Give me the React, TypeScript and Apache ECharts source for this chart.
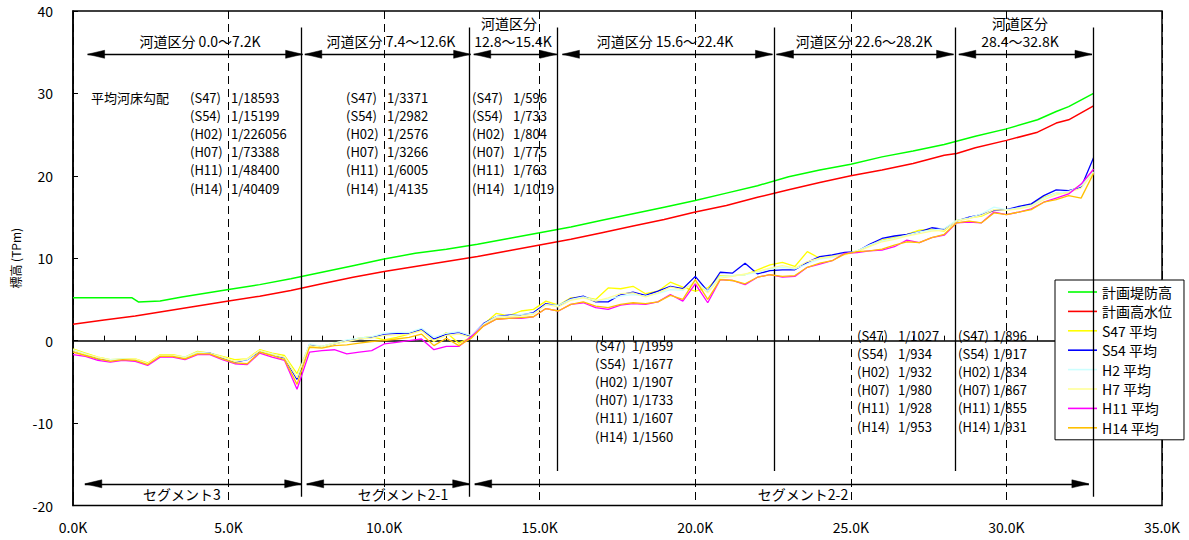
import React, { useEffect, useRef } from "react";
import * as echarts from "echarts";

// distance (K) for bed profiles
const KM = [
  0, 0.4, 0.8, 1.2, 1.6, 2, 2.4, 2.8, 3.2, 3.6,
  4, 4.4, 4.8, 5.2, 5.6, 6, 6.4, 6.8, 7.2, 7.6,
  8, 8.4, 8.8, 9.2, 9.6, 10, 10.4, 10.8, 11.2, 11.6,
  12, 12.4, 12.8, 13.2, 13.6, 14, 14.4, 14.8, 15.2, 15.6,
  16, 16.4, 16.8, 17.2, 17.6, 18, 18.4, 18.8, 19.2, 19.6,
  20, 20.4, 20.8, 21.2, 21.6, 22, 22.4, 22.8, 23.2, 23.6,
  24, 24.4, 24.8, 25.2, 25.6, 26, 26.4, 26.8, 27.2, 27.6,
  28, 28.4, 28.8, 29.2, 29.6, 30, 30.4, 30.8, 31.2, 31.6,
  32, 32.4, 32.8,
];

const S47 = [
  -1.0, -1.5, -2.0, -2.3, -2.2, -2.2, -2.7, -1.7, -1.7, -2.0,
  -1.3, -1.5, -1.9, -2.3, -2.2, -1.1, -1.5, -1.8, -4.0, -0.6,
  -0.7, -0.3, 0.0, 0.3, 0.5, 0.1, 0.4, 0.8, 1.3, -0.1,
  1.0, -0.3, 0.4, 2.0, 3.3, 3.0, 3.6, 3.8, 4.8, 4.3,
  5.2, 5.3, 5.0, 6.4, 6.3, 6.6, 5.7, 6.0, 7.1, 6.5,
  6.0, 6.4, 7.9, 7.9, 8.0, 8.6, 9.2, 9.5, 9.0, 10.8,
  10.0, 10.2, 10.5, 10.9, 11.5, 12.2, 12.5, 12.9, 13.4, 13.5,
  13.3, 14.6, 14.9, 15.1, 15.8, 15.9, 16.1, 16.5, 17.4, 17.9,
  18.0, 18.9, 20.6,
];
const S54 = [
  -1.2, -1.7, -2.2, -2.4, -2.3, -2.3, -2.9, -1.9, -1.9, -2.1,
  -1.5, -1.5, -2.1, -2.6, -2.3, -1.3, -1.7, -2.1, -4.7, -0.5,
  -0.8, -0.4, 0.0, 0.2, 0.4, 0.8, 0.9, 0.9, 1.4, 0.2,
  0.8, 1.0, 0.5, 2.1, 2.9, 3.1, 3.1, 3.4, 4.5, 4.2,
  5.1, 5.4, 4.7, 4.7, 5.6, 5.9, 5.5, 6.0, 6.6, 6.3,
  7.8, 6.0, 8.3, 8.2, 9.4, 8.1, 8.5, 8.6, 8.6, 9.5,
  10.2, 10.4, 10.7, 10.8, 11.7, 12.4, 12.7, 12.9, 13.2, 13.7,
  13.5, 14.5, 15.0, 15.3, 15.8, 15.9, 16.3, 16.6, 17.6, 18.3,
  18.2, 18.6, 22.2,
];
const H2 = [
  -1.1, -1.6, -2.1, -2.3, -2.2, -2.3, -2.8, -1.8, -1.8, -2.0,
  -1.4, -1.5, -2.0, -2.5, -2.3, -1.2, -1.6, -2.0, -4.4, -0.4,
  -0.7, -0.3, 0.1, 0.3, 0.5, 0.9, 1.0, 1.0, 1.5, 0.4,
  0.9, 1.1, 0.6, 2.0, 2.9, 3.0, 3.2, 3.3, 4.3, 4.3,
  5.0, 5.3, 4.9, 5.0, 5.4, 5.6, 5.4, 5.7, 6.2, 6.1,
  7.2, 6.0, 7.8, 7.9, 8.0, 8.3, 8.7, 8.9, 8.7, 9.3,
  9.9, 10.1, 10.5, 10.9, 11.6, 12.1, 12.4, 12.8, 13.2, 13.4,
  13.6, 14.6, 14.9, 15.4, 16.2, 15.9, 16.1, 16.4, 17.3, 17.9,
  18.1, 18.8, 20.5,
];
const H7 = [
  -1.2, -1.7, -2.0, -2.4, -2.3, -2.2, -2.8, -1.8, -1.8, -2.1,
  -1.5, -1.6, -2.0, -2.5, -2.2, -1.2, -1.7, -2.0, -4.5, -0.6,
  -0.8, -0.4, -0.1, 0.2, 0.3, 0.6, 0.7, 0.8, 1.2, 0.0,
  0.6, 0.8, 0.4, 1.9, 2.8, 2.9, 3.0, 3.2, 4.4, 4.1,
  4.9, 5.2, 4.8, 5.2, 5.7, 5.8, 5.3, 5.8, 6.5, 6.2,
  7.0, 5.8, 7.6, 7.8, 8.1, 8.4, 8.8, 9.1, 8.8, 9.6,
  10.0, 10.2, 10.4, 10.8, 11.4, 12.0, 12.3, 12.7, 13.0, 13.3,
  13.4, 14.5, 14.8, 15.2, 15.9, 15.8, 16.0, 16.3, 17.1, 17.7,
  18.0, 18.5, 20.4,
];
const H11 = [
  -1.7, -1.9, -2.4, -2.6, -2.4, -2.5, -3.0, -2.0, -2.0, -2.3,
  -1.7, -1.7, -2.3, -2.8, -2.9, -1.5, -2.0, -2.4, -5.9, -1.4,
  -1.2, -1.1, -1.6, -1.4, -1.2, -0.4, -0.2, 0.0, 0.2, -1.1,
  -0.7, -0.7, 0.5, 1.8, 2.6, 2.7, 2.7, 2.9, 3.9, 3.6,
  4.4, 4.6, 4.0, 3.8, 4.3, 4.5, 4.4, 4.7, 5.6, 4.8,
  6.9, 4.6, 7.4, 7.3, 6.8, 7.7, 8.0, 7.7, 7.8, 8.9,
  9.3, 9.7, 10.6, 10.7, 10.9, 11.0, 11.4, 12.2, 11.9, 12.5,
  12.8, 14.3, 14.4, 14.3, 15.6, 15.3, 15.6, 16.0, 16.8, 17.3,
  17.8, 19.0, 20.8,
];
const H14 = [
  -1.4, -1.8, -2.2, -2.5, -2.3, -2.4, -2.9, -1.9, -1.9, -2.2,
  -1.6, -1.6, -2.2, -2.7, -2.8, -1.4, -1.8, -2.3, -5.3, -0.8,
  -0.9, -0.6, -0.5, -0.3, -0.1, 0.0, 0.2, 0.4, 0.8, -0.6,
  0.3, -0.6, 0.3, 1.8, 2.6, 2.7, 2.8, 2.9, 3.9, 3.6,
  4.4, 4.7, 4.2, 4.0, 4.4, 4.6, 4.5, 4.7, 5.5, 5.0,
  7.4, 5.0, 7.4, 7.3, 6.9, 7.7, 8.0, 7.8, 7.9, 8.9,
  9.4, 9.7, 10.5, 10.8, 10.9, 11.1, 11.6, 12.0, 11.9, 12.5,
  12.9, 14.3, 14.5, 14.3, 15.5, 15.3, 15.6, 15.9, 16.8, 17.1,
  17.6, 17.3, 20.3,
];

// planned levee height (計画堤防高)
const DIKE_KM = [0, 1.9, 2.1, 2.8, 3.5, 5, 6, 7, 8, 9, 10, 11, 12, 13, 14, 15, 16, 17, 18, 19, 20, 21, 22, 23, 24, 25, 26, 27, 28, 29, 30, 31, 31.6, 32, 32.8];
const DIKE = [5.2, 5.2, 4.7, 4.8, 5.3, 6.2, 6.8, 7.5, 8.3, 9.1, 9.9, 10.6, 11.1, 11.7, 12.4, 13.1, 13.8, 14.6, 15.4, 16.2, 17.0, 17.9, 18.8, 19.9, 20.7, 21.4, 22.3, 23.0, 23.8, 24.8, 25.7, 26.8, 27.8, 28.4, 30.0];
// planned high water level (計画高水位)
const HWL_KM = [0, 1, 2, 3, 4, 5, 6, 7, 8, 9, 10, 11, 12, 13, 14, 15, 16, 17, 18, 19, 20, 21, 22, 23, 24, 25, 26, 27, 28, 28.4, 29, 30, 31, 31.6, 32, 32.8];
const HWL = [2.0, 2.5, 3.0, 3.6, 4.2, 4.8, 5.4, 6.1, 6.9, 7.7, 8.4, 9.0, 9.6, 10.2, 10.9, 11.6, 12.3, 13.1, 13.9, 14.7, 15.6, 16.4, 17.4, 18.3, 19.2, 20.0, 20.7, 21.5, 22.5, 22.7, 23.4, 24.3, 25.3, 26.4, 26.8, 28.5];

const SERIES_NAMES = ["計画堤防高", "計画高水位", "S47 平均", "S54 平均", "H2 平均", "H7 平均", "H11 平均", "H14 平均"];
const SERIES_COLORS = ["#00ff00", "#ff0000", "#ffff00", "#0000ff", "#ccffff", "#ffff99", "#ff00ff", "#ffc000"];

// section boundaries (K) and annotation arrow tips (K)
const BOUNDARIES = [7.35, 12.75, 15.55, 22.55, 28.35, 32.8];
const LONG_BOUNDARIES = [7.35, 12.75, 32.8];
const TOP_ARROWS = [[0.47, 7.38], [7.45, 12.78], [12.88, 15.55], [15.73, 22.48], [22.61, 28.3], [28.47, 32.75]];
const BOTTOM_ARROWS = [[0.38, 7.35], [7.51, 12.75], [12.91, 32.65]];
const TOP_ARROW_Y = 34.75;
const BOTTOM_ARROW_Y = -17.37;

const CODES = ["(S47)", "(S54)", "(H02)", "(H07)", "(H11)", "(H14)"];
const GRAD_1 = ["1/18593", "1/15199", "1/226056", "1/73388", "1/48400", "1/40409"];
const GRAD_2 = ["1/3371", "1/2982", "1/2576", "1/3266", "1/6005", "1/4135"];
const GRAD_3 = ["1/596", "1/733", "1/804", "1/775", "1/763", "1/1019"];
const GRAD_4 = ["1/1959", "1/1677", "1/1907", "1/1733", "1/1607", "1/1560"];
const GRAD_5 = ["1/1027", "1/934", "1/932", "1/980", "1/928", "1/953"];
const GRAD_6 = ["1/896", "1/917", "1/834", "1/867", "1/855", "1/931"];

const FONT = '"Noto Sans CJK JP", "Noto Sans", sans-serif';
const HEAD_LEN = 17;
const HEAD_HALF = 4;

export default function App() {
  const ref = useRef<HTMLDivElement>(null);
  useEffect(() => {
    document.body.style.margin = "0";
    const chart = echarts.init(ref.current!, null, { renderer: "svg" });

    const beds = [S47, S54, H2, H7, H11, H14];
    const bedSeries = beds.map((arr, i) => ({
      name: SERIES_NAMES[i + 2],
      type: "line",
      data: KM.map((k, j) => [k, arr[j]]),
      showSymbol: false,
      symbol: "none",
      lineStyle: { color: SERIES_COLORS[i + 2], width: 1.3 },
      itemStyle: { color: SERIES_COLORS[i + 2] },
      z: 3 + i,
    }));

    const lineItems: any[] = BOUNDARIES.map((k) => {
      const bottom = LONG_BOUNDARIES.indexOf(k) >= 0 ? -18.95 : -15.8;
      return [{ coord: [k, 38.0] }, { coord: [k, bottom] }];
    });
    TOP_ARROWS.forEach(([a, b]) => lineItems.push([{ coord: [a, TOP_ARROW_Y] }, { coord: [b, TOP_ARROW_Y] }]));
    BOTTOM_ARROWS.forEach(([a, b]) => lineItems.push([{ coord: [a, BOTTOM_ARROW_Y] }, { coord: [b, BOTTOM_ARROW_Y] }]));

    const texts: any[] = [];
    const addText = (text: string, x: number, y: number, align = "left", size = 13) => {
      texts.push({
        type: "text",
        x,
        y,
        silent: true,
        style: { text, fill: "#000", font: `${size}px ${FONT}`, textAlign: align, textVerticalAlign: "middle" },
      });
    };
    addText("河道区分 0.0～7.2K", 200, 41, "center", 14);
    addText("河道区分 7.4～12.6K", 391, 41, "center", 14);
    addText("河道区分", 509, 23, "center", 14);
    addText("12.8～15.4K", 513, 41, "center", 14);
    addText("河道区分 15.6～22.4K", 665, 41, "center", 14);
    addText("河道区分 22.6～28.2K", 864, 41, "center", 14);
    addText("河道区分", 1020, 23, "center", 14);
    addText("28.4～32.8K", 1020, 41, "center", 14);
    addText("平均河床勾配", 91, 97, "left", 13);
    const blocks: [string[], number, number, number][] = [
      [GRAD_1, 190, 231, 97],
      [GRAD_2, 346, 387, 97],
      [GRAD_3, 472, 513, 97],
      [GRAD_4, 595, 632, 345],
      [GRAD_5, 857, 898, 335],
      [GRAD_6, 958, 993, 335],
    ];
    blocks.forEach(([vals, cx, vx, y0]) => {
      vals.forEach((v, i) => {
        addText(CODES[i], cx, y0 + i * 18.2, "left", 13);
        addText(v, vx, y0 + i * 18.2, "left", 13);
      });
    });
    addText("セグメント3", 182, 494, "center", 14);
    addText("セグメント2-1", 403, 494, "center", 14);
    addText("セグメント2-2", 803, 494, "center", 14);

    const option: any = {
      animation: false,
      backgroundColor: "#fff",
      textStyle: { fontFamily: FONT },
      grid: { left: 73, right: 27, top: 11, bottom: 34.5, show: true, borderColor: "#000", borderWidth: 1.5, backgroundColor: "transparent" },
      legend: {
        left: 1055,
        top: 280,
        orient: "vertical",
        data: SERIES_NAMES.map((n) => ({ name: n, icon: "rect" })),
        itemWidth: 29,
        itemHeight: 1.6,
        itemGap: 5.4,
        padding: [5, 12, 5, 13],
        borderColor: "#000",
        borderWidth: 1,
        backgroundColor: "#fff",
        textStyle: { fontSize: 14, color: "#000", fontFamily: FONT, lineHeight: 14 },
        selectedMode: false,
      },
      xAxis: {
        type: "value",
        min: 0,
        max: 35,
        interval: 5,
        axisLine: { show: true, lineStyle: { color: "#000", width: 1.5 } },
        axisTick: { show: true, inside: true, length: 5, lineStyle: { color: "#000" } },
        minorTick: { show: true, splitNumber: 5, length: 5, lineStyle: { color: "#000" } },
        axisLabel: { formatter: (v: number) => v.toFixed(1) + "K", fontSize: 14, color: "#000", margin: 14, fontFamily: FONT },
        splitLine: { show: true, lineStyle: { color: "#000", type: [8, 5], width: 1 } },
      },
      yAxis: {
        type: "value",
        min: -20,
        max: 40,
        interval: 10,
        name: "標高 (TPm)",
        nameLocation: "middle",
        nameGap: 50,
        nameRotate: 90,
        nameTextStyle: { fontSize: 12, color: "#000", fontFamily: FONT },
        axisLine: { show: true, lineStyle: { color: "#000", width: 1.5 } },
        axisTick: { show: true, inside: true, length: 5, lineStyle: { color: "#000" } },
        axisLabel: { fontSize: 14, color: "#000", margin: 20, fontFamily: FONT },
        splitLine: { show: false },
      },
      series: [
        {
          name: SERIES_NAMES[0],
          type: "line",
          data: DIKE_KM.map((k, i) => [k, DIKE[i]]),
          showSymbol: false,
          symbol: "none",
          lineStyle: { color: SERIES_COLORS[0], width: 1.5 },
          itemStyle: { color: SERIES_COLORS[0] },
          z: 2,
          markLine: {
            silent: true,
            symbol: ["none", "none"],
            label: { show: false },
            emphasis: { disabled: true },
            lineStyle: { color: "#000", type: "solid", width: 1.3 },
            data: lineItems,
          },
        },
        {
          name: SERIES_NAMES[1],
          type: "line",
          data: HWL_KM.map((k, i) => [k, HWL[i]]),
          showSymbol: false,
          symbol: "none",
          lineStyle: { color: SERIES_COLORS[1], width: 1.5 },
          itemStyle: { color: SERIES_COLORS[1] },
          z: 2,
        },
        ...bedSeries,
      ],
      graphic: texts,
    };
    chart.setOption(option);

    // arrow heads placed through the axis scales
    const heads: any[] = [];
    const addHead = (k: number, y: number, dir: number) => {
      const [px, py] = chart.convertToPixel({ gridIndex: 0 }, [k, y]) as number[];
      heads.push({
        type: "polygon",
        silent: true,
        z: 100,
        shape: { points: [[px, py], [px - dir * HEAD_LEN, py - HEAD_HALF], [px - dir * HEAD_LEN, py + HEAD_HALF]] },
        style: { fill: "#000", stroke: "#000", lineWidth: 0.5 },
      });
    };
    TOP_ARROWS.forEach(([a, b]) => { addHead(a, TOP_ARROW_Y, -1); addHead(b, TOP_ARROW_Y, 1); });
    BOTTOM_ARROWS.forEach(([a, b]) => { addHead(a, BOTTOM_ARROW_Y, -1); addHead(b, BOTTOM_ARROW_Y, 1); });
    chart.setOption({ graphic: [...texts, ...heads] });

    return () => chart.dispose();
  }, []);
  return <div ref={ref} style={{ width: 1189, height: 540, position: "absolute", left: 0, top: 0 }} />;
}
